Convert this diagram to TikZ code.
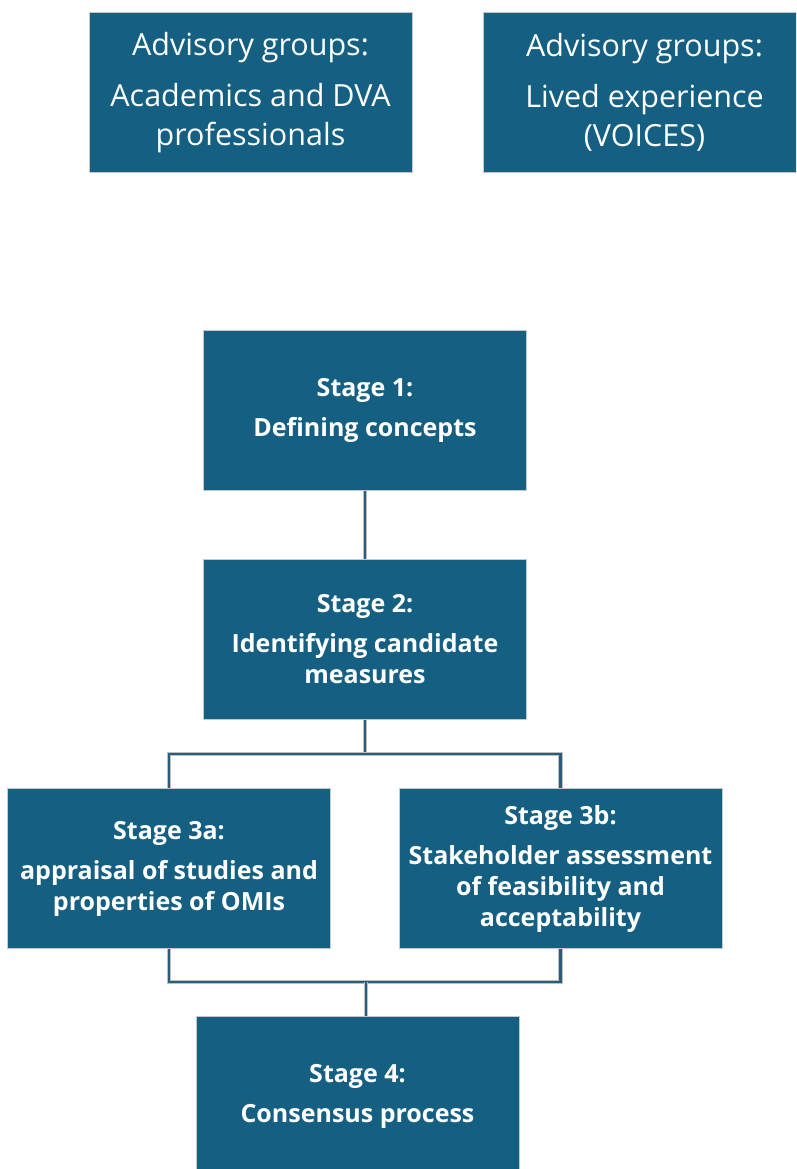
\documentclass[tikz,border=0pt]{standalone}
\usepackage{fontspec}
\setmainfont{Open Sans}
\definecolor{teal1}{HTML}{156082}
\definecolor{linkc}{HTML}{2A5E78}
\begin{document}
\begin{tikzpicture}[x=1pt,y=-1pt,
  box/.style={rectangle, fill=teal1, draw=black!22, line width=1pt,
    text=white, align=center, inner sep=0pt,
    minimum width=323pt, minimum height=160pt},
  advbox/.style={box, font=\fontsize{30.5}{39}\selectfont},
  stagebox/.style={box, font=\fontsize{25}{31}\selectfont\bfseries},
  link/.style={draw=linkc, line width=2.6pt,
    preaction={draw=black!25, line width=4.2pt}}]
\useasboundingbox (0,0) rectangle (796,1169);
\fill[white] (0,0) rectangle (796,1169);
\begin{scope}
\clip (0,0) rectangle (796,1169);
\node[advbox] (adv1) at (250.5,92.5) {Advisory groups:\\[12pt]Academics and DVA\\professionals};
\node[advbox] (adv2) at (644.5,92.5) {Advisory groups:\\[12pt]Lived experience\\(VOICES)};
\node[stagebox] (s1) at (365,410.5) {Stage 1:\\[9pt]Defining concepts};
\node[stagebox] (s2) at (365,639.5) {Stage 2:\\[9pt]Identifying candidate\\measures};
\node[stagebox] (s3a) at (169,868.5) {Stage 3a:\\[9pt]appraisal of studies and\\properties of OMIs};
\node[stagebox] (s3b) at (560.5,868.5) {Stage 3b:\\[9pt]Stakeholder assessment\\of feasibility and\\acceptability};
\node[stagebox] (s4) at (357.5,1096) {Stage 4:\\[9pt]Consensus process};
\coordinate (j1) at (365,754);
\coordinate (j2) at (366,982);
\path[link] (s1.south) -- (s2.north);
\path[link] (s2.south) -- (j1);
\path[link] (s3a.north) |- (j1) -| (s3b.north);
\path[link] (s3a.south) |- (j2) -| (s3b.south);
\path[link] (j2) -- (j2 |- s4.north);
\end{scope}
\end{tikzpicture}
\end{document}
